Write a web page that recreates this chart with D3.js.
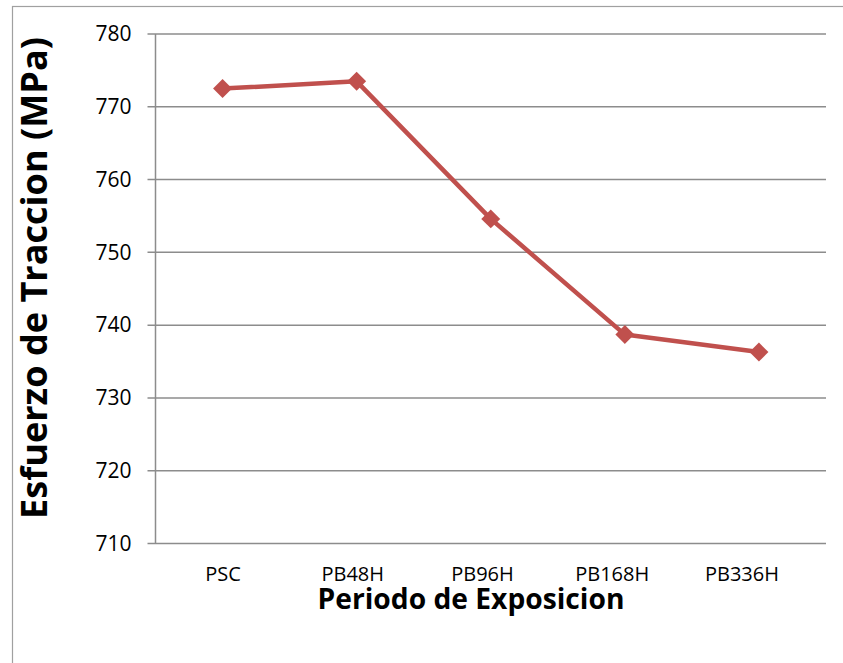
<!DOCTYPE html>
<html>
<head>
<meta charset="utf-8">
<script src="https://cdn.jsdelivr.net/npm/d3@7/dist/d3.min.js"></script>
<style>
  html, body { margin: 0; padding: 0; background: #fff; }
  svg { display: block; }
  text { font-family: "Open Sans", "Noto Sans", sans-serif; fill: #000; }
</style>
</head>
<body>
<svg id="chart" width="843" height="663"></svg>
<script>
const categories = ["PSC", "PB48H", "PB96H", "PB168H", "PB336H"];
const values = [772.5, 773.5, 754.6, 738.7, 736.3];
const yTicks = [710, 720, 730, 740, 750, 760, 770, 780];
const xTitle = "Periodo de Exposicion";
const yTitle = "Esfuerzo de Traccion (MPa)";

const svg = d3.select("#chart");
const W = 843, H = 663;
const plot = { left: 155.5, right: 826, top: 34, bottom: 543.5 };

// outer frame
svg.append("rect")
  .attr("x", 12.5).attr("y", 6.5)
  .attr("width", W).attr("height", H)
  .attr("fill", "none").attr("stroke", "#a0a0a0").attr("stroke-width", 1.2);

const x = d3.scaleBand().domain(categories).range([plot.left, plot.right]).padding(0);
const xLabel = d3.scalePoint().domain(categories).range([223, 742]);
const y = d3.scaleLinear().domain([710, 780]).range([plot.bottom, plot.top]);

// gridlines
svg.append("g")
  .selectAll("line").data(yTicks).join("line")
  .attr("x1", plot.left - 8).attr("x2", plot.right)
  .attr("y1", d => y(d)).attr("y2", d => y(d))
  .attr("stroke", "#8c8c8c").attr("stroke-width", 1.5);

// y axis line
svg.append("line")
  .attr("x1", plot.left).attr("x2", plot.left)
  .attr("y1", plot.top).attr("y2", plot.bottom)
  .attr("stroke", "#8c8c8c").attr("stroke-width", 1.5);

// y tick labels
const yAxis = d3.axisLeft(y).tickValues(yTicks).tickSize(0).tickPadding(24).tickFormat(d3.format("d"));
const gy = svg.append("g").attr("transform", `translate(${plot.left},0)`).call(yAxis);
gy.select(".domain").remove();
gy.selectAll("text").style("font-size", "21px").style("font-family", '"Open Sans", sans-serif').attr("fill", "#000");

// x tick labels
svg.append("g").selectAll("text").data(categories).join("text")
  .attr("x", d => xLabel(d)).attr("y", 581)
  .attr("text-anchor", "middle")
  .style("font-size", "20px")
  .text(d => d);

// line
const line = d3.line().x((d, i) => x(categories[i]) + x.bandwidth() / 2).y(d => y(d));
svg.append("path").datum(values)
  .attr("d", line).attr("fill", "none")
  .attr("stroke", "#c0504d").attr("stroke-width", 4.5).attr("stroke-linejoin", "round");

// diamond markers
const sym = d3.symbol().type(d3.symbolSquare).size(180);
svg.append("g").selectAll("path").data(values).join("path")
  .attr("d", sym)
  .attr("transform", (d, i) => `translate(${x(categories[i]) + x.bandwidth() / 2},${y(d)}) rotate(45)`)
  .attr("fill", "#c0504d");

// titles
const xt = svg.append("text")
  .attr("x", 471).attr("y", 609)
  .attr("text-anchor", "middle")
  .style("font-size", "27px").style("font-weight", "bold")
  .text(xTitle);
const yt = svg.append("text")
  .attr("transform", "translate(47,278) rotate(-90)")
  .attr("text-anchor", "middle")
  .style("font-size", "25px").style("font-weight", "bold")
  .text(yTitle);

function fit(sel, target) {
  const w = sel.node().getComputedTextLength();
  const fs = parseFloat(sel.style("font-size"));
  sel.style("font-size", (fs * target / w) + "px");
}
fit(xt, 307);
fit(yt, 482);
</script>
</body>
</html>
